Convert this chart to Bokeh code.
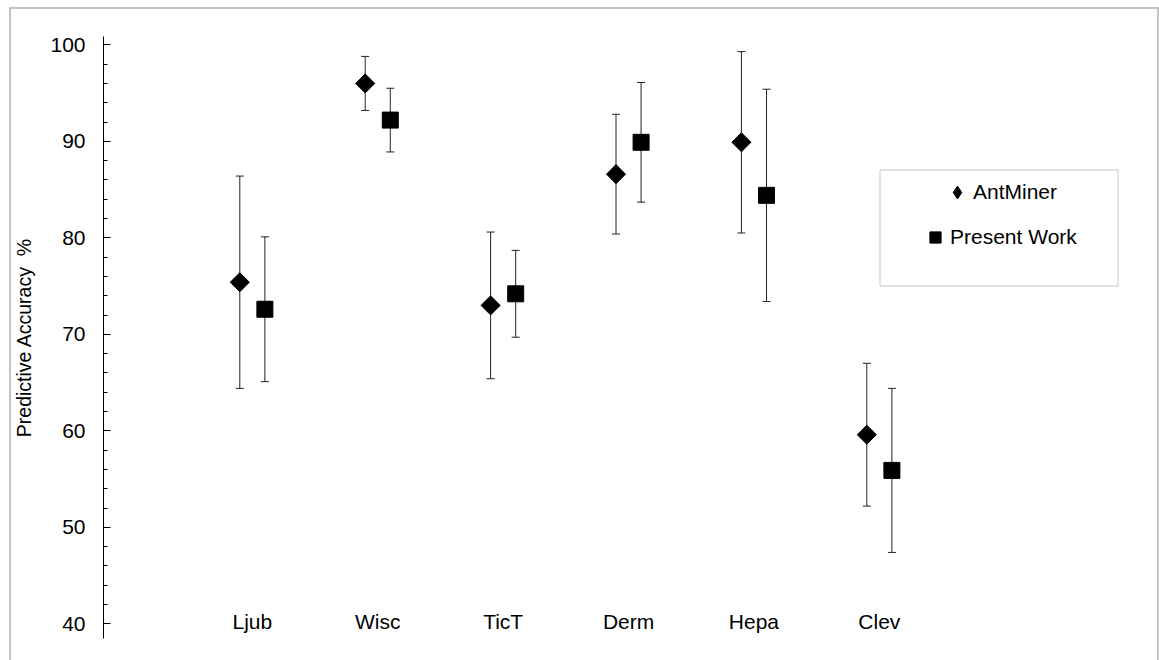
import math
from bokeh.plotting import figure
from bokeh.models import (ColumnDataSource, Whisker, TeeHead, Range1d, FixedTicker,
                          SingleIntervalTicker, Legend, LegendItem, BoxAnnotation)
from bokeh.embed import file_html
from bokeh.resources import INLINE

# ---------------- data ----------------
categories = ["Ljub", "Wisc", "TicT", "Derm", "Hepa", "Clev"]
antminer_mean = [75.4, 96.0, 73.0, 86.6, 89.9, 59.6]
antminer_err = [11.0, 2.8, 7.6, 6.2, 9.4, 7.4]
present_mean = [72.6, 92.2, 74.2, 89.9, 84.4, 55.9]
present_err = [7.5, 3.3, 4.5, 6.2, 11.0, 8.5]
series_names = ["AntMiner", "Present Work"]
y_axis_title = "Predictive Accuracy \u00a0%"

FONT = "Liberation Sans"

# ---------------- layout constants ----------------
W, H = 1159, 660
FL, FT, FR, FB = 103, 36, 19, 22          # frame borders (px)
FRAME_W, FRAME_H = W - FL - FR, H - FT - FB
X0, X1 = -0.187, -0.187 + FRAME_W / 125.4
Y0, Y1 = 38.48, 38.48 + FRAME_H / 9.65

pos = list(range(1, len(categories) + 1))
xa = [p - 0.1 for p in pos]
xp = [p + 0.1 for p in pos]

src_a = ColumnDataSource(dict(
    x=xa, y=antminer_mean,
    lo=[m - e for m, e in zip(antminer_mean, antminer_err)],
    hi=[m + e for m, e in zip(antminer_mean, antminer_err)]))
src_p = ColumnDataSource(dict(
    x=xp, y=present_mean,
    lo=[m - e for m, e in zip(present_mean, present_err)],
    hi=[m + e for m, e in zip(present_mean, present_err)]))

p = figure(width=W, height=H, output_backend="svg", toolbar_location=None,
           x_range=Range1d(X0, X1), y_range=Range1d(Y0, Y1),
           min_border_left=FL, min_border_right=FR, min_border_top=FT, min_border_bottom=FB)
p.outline_line_color = None
p.xgrid.grid_line_color = None
p.ygrid.grid_line_color = None
p.background_fill_color = "white"
p.border_fill_alpha = 0

# outer chart-area border (top, left, right) painted behind the transparent canvas border
GR = "linear-gradient(#c4c4c4, #c4c4c4)"
p.styles = {
    "background-color": "white",
    "background-image": f"{GR}, {GR}, {GR}",
    "background-position": "9px 7px, 9px 7px, 1157px 7px",
    "background-size": "2px 660px, 1150px 2px, 2px 660px",
    "background-repeat": "no-repeat",
}

# y axis
ya = p.yaxis[0]
ya.ticker = SingleIntervalTicker(interval=10, num_minor_ticks=5)
ya.axis_line_color = "black"
ya.major_tick_in = 7
ya.major_tick_out = 0
ya.minor_tick_in = 4
ya.minor_tick_out = 0
ya.major_tick_line_color = "black"
ya.minor_tick_line_color = "black"
ya.major_label_text_font = FONT
ya.major_label_text_font_size = "21px"
ya.major_label_text_color = "black"
ya.major_label_standoff = 18
ya.axis_label = y_axis_title
ya.axis_label_text_font = FONT
ya.axis_label_text_font_size = "19.5px"
ya.axis_label_text_font_style = "normal"
ya.axis_label_text_color = "black"
ya.axis_label_standoff = 12

# x axis (category labels sit just above the frame bottom)
xax = p.xaxis[0]
xax.ticker = FixedTicker(ticks=pos)
xax.major_label_overrides = {p_: c for p_, c in zip(pos, categories)}
xax.axis_line_color = None
xax.major_tick_line_color = None
xax.minor_tick_line_color = None
xax.major_label_standoff = -35
xax.major_label_text_font = FONT
xax.major_label_text_font_size = "21px"
xax.major_label_text_color = "black"

# error bars
for src in (src_a, src_p):
    w = Whisker(base="x", upper="hi", lower="lo", source=src, dimension="height",
                line_color="#222222", line_width=1,
                upper_head=TeeHead(size=8, line_color="#222222", line_width=1),
                lower_head=TeeHead(size=8, line_color="#222222", line_width=1))
    p.add_layout(w)

# markers
r_a = p.scatter("x", "y", source=src_a, marker="square", angle=math.pi / 4, size=13.5,
                fill_color="black", line_color="black", line_width=1)
r_p = p.scatter("x", "y", source=src_p, marker="square", size=16,
                fill_color="black", line_color="black", line_width=1)

# legend-only glyph for the diamond (legend glyphs ignore marker angle)
leg_a = p.scatter(x=[float("nan")], y=[float("nan")], marker="diamond",
                  fill_color="black", line_color="black")

# legend box (canvas units)
box = BoxAnnotation(left=879.5, right=1117.5, top=169.5, bottom=285.5,
                    left_units="canvas", right_units="canvas",
                    top_units="canvas", bottom_units="canvas",
                    fill_alpha=0, line_color="#404040", line_width=1)
p.add_layout(box)

def mk_legend(label, rend, loc, g, standoff):
    return Legend(items=[LegendItem(label=label, renderers=[rend])], location=loc,
                  padding=0, margin=0, spacing=0, glyph_width=g, glyph_height=g,
                  label_standoff=standoff, border_line_color=None, background_fill_alpha=0,
                  label_text_font=FONT, label_text_font_size="21px",
                  label_text_color="black")

p.add_layout(mk_legend(series_names[0], leg_a, (838, 430), 32, -1))
p.add_layout(mk_legend(series_names[1], r_p, (818, 387), 28, 1))

open("out.html", "w").write(file_html(p, INLINE))
